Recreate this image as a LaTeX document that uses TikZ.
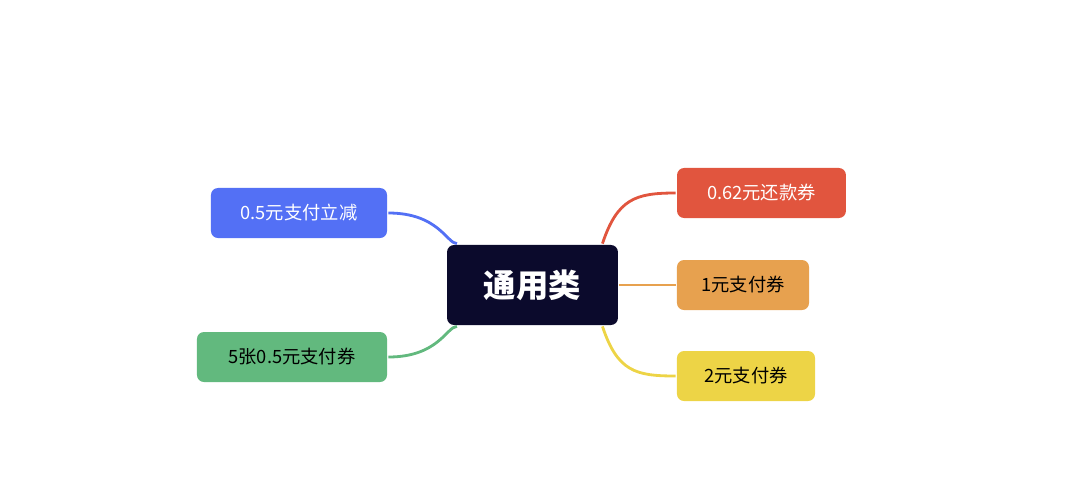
\documentclass[tikz,border=0pt]{standalone}
\usepackage{fontspec}
\setmainfont{Noto Sans CJK SC}
\usepackage{tikz}
\usetikzlibrary{positioning}
\definecolor{navy}{HTML}{0B0A2C}
\definecolor{cblue}{HTML}{5370F5}
\definecolor{cgreen}{HTML}{62B97E}
\definecolor{cred}{HTML}{E1553E}
\definecolor{corange}{HTML}{E7A14F}
\definecolor{cyellow}{HTML}{EDD446}

\begin{document}
\begin{tikzpicture}[x=0.025cm, y=-0.025cm, line width=2pt,
  topic/.style={rounded corners=5pt, inner sep=0pt, minimum height=1.25cm, font=\fontsize{13}{15}\selectfont},
  main node/.style={rounded corners=5pt, fill=navy, text=white, minimum width=4.27cm, minimum height=2cm, font=\fontsize{23}{26}\selectfont\bfseries}]
\useasboundingbox (0,0) rectangle (1080,495);

\node[main node] (M) at (532.5,285) {通用类};
\node[topic, fill=cblue, text=white, minimum width=4.4cm] (A) at (299,213) {0.5元支付立减};
\node[topic, fill=cgreen, minimum width=4.75cm] (B) at (292,357) {5张0.5元支付券};
\node[topic, fill=cred, text=white, minimum width=4.22cm] (C) at (761.5,193) {0.62元还款券};
\node[topic, fill=corange, minimum width=3.3cm] (D) at (743,285) {1元支付券};
\node[topic, fill=cyellow, minimum width=3.45cm] (E) at (746,376) {2元支付券};

\draw[cblue] (A.east) .. controls +(50,0) and +(-10,0) .. ([xshift=8pt]M.north west);
\draw[cgreen] (B.east) .. controls +(50,0) and +(-10,0) .. ([xshift=8pt]M.south west);
\draw[cred] ([xshift=-12pt]M.north east) .. controls +(15,-45) and +(-40,0) .. (C.west);
\draw[corange] (M.east) -- (D.west);
\draw[cyellow] ([xshift=-12pt]M.south east) .. controls +(15,45) and +(-40,0) .. (E.west);
\end{tikzpicture}
\end{document}
